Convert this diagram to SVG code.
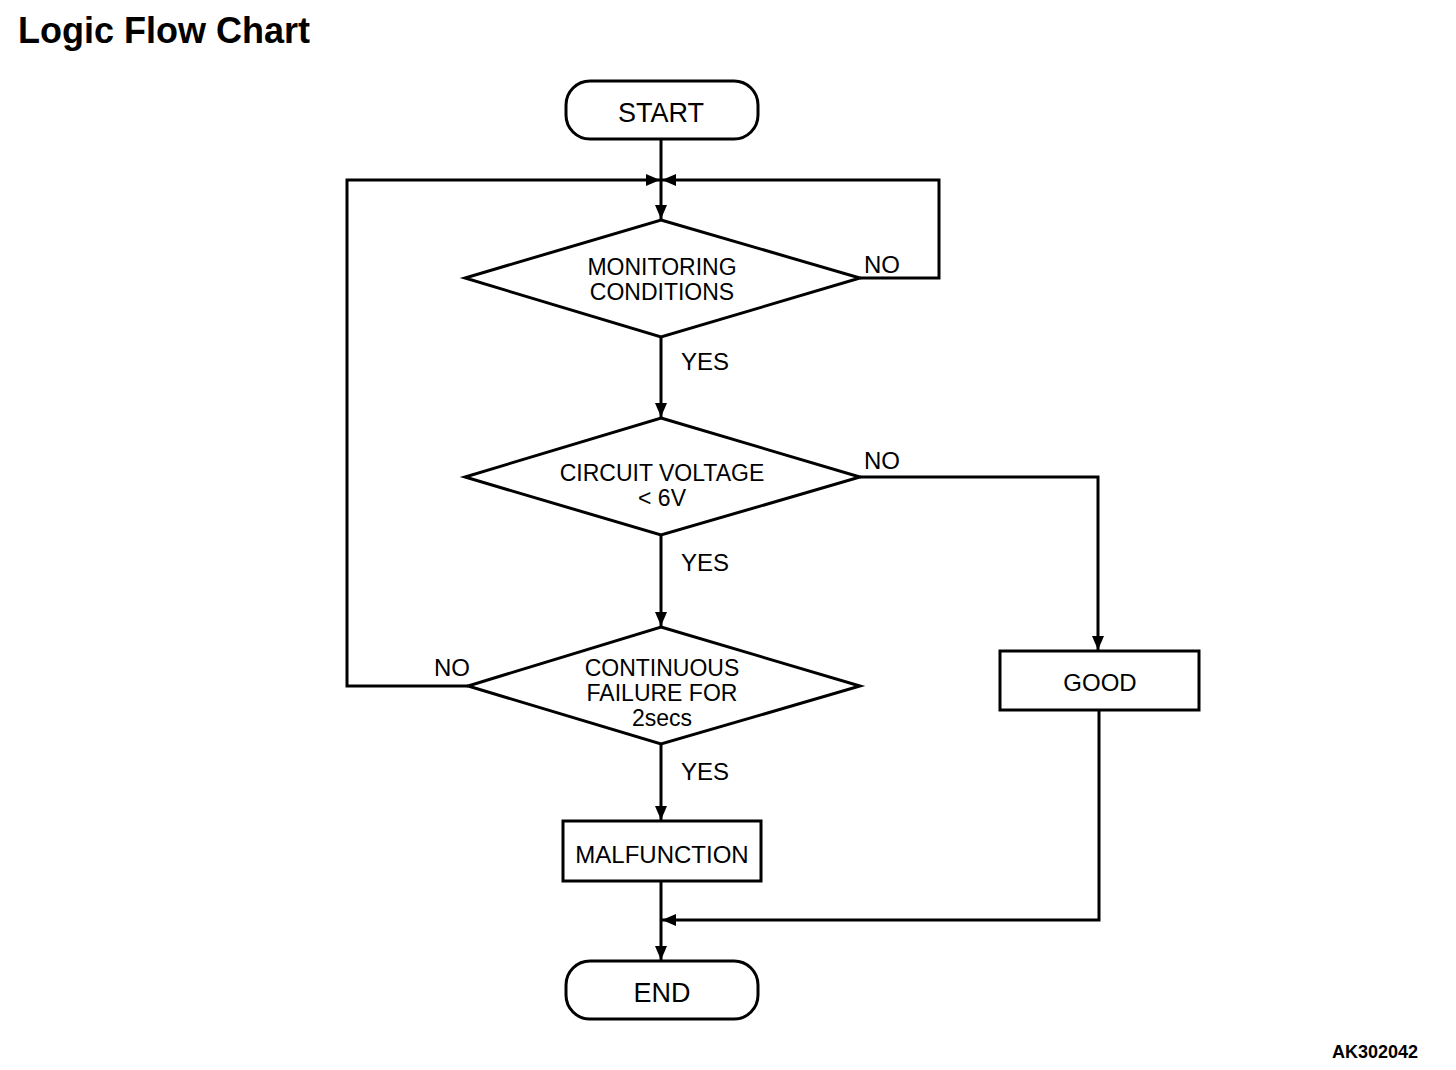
<svg xmlns="http://www.w3.org/2000/svg" width="1456" height="1070" viewBox="0 0 1456 1070">
<defs>
<style>
.s{fill:#fff;stroke:#000;stroke-width:3}
.c{fill:none;stroke:#000;stroke-width:3}
.t{font-family:"Liberation Sans",Arial,sans-serif;font-size:24px;fill:#000;text-anchor:middle}
.d{font-family:"Liberation Sans",Arial,sans-serif;font-size:23px;fill:#000;text-anchor:middle}
.l{font-family:"Liberation Sans",Arial,sans-serif;font-size:24px;fill:#000}
.b{font-family:"Liberation Sans",Arial,sans-serif;font-size:27px;fill:#000;text-anchor:middle}
</style>
<marker id="a" markerUnits="userSpaceOnUse" markerWidth="14" markerHeight="12" refX="14" refY="6" orient="auto">
<path d="M0,0 L14,6 L0,12 z" fill="#000"/>
</marker>
</defs>
<rect width="1456" height="1070" fill="#fff"/>
<text x="18" y="43" font-family="Liberation Sans,Arial,sans-serif" font-size="36" font-weight="bold">Logic Flow Chart</text>
<text x="1418" y="1058" font-family="Liberation Sans,Arial,sans-serif" font-size="18" font-weight="bold" text-anchor="end">AK302042</text>
<g id="connectors">
<path class="c" d="M661,139 V219" marker-end="url(#a)"/>
<path class="c" d="M468,686 H347 V180 H660" marker-end="url(#a)"/>
<path class="c" d="M860,278 H939 V180 H662" marker-end="url(#a)"/>
<path class="c" d="M661,337 V417" marker-end="url(#a)"/>
<path class="c" d="M860,477 H1098 V650" marker-end="url(#a)"/>
<path class="c" d="M661,535 V626" marker-end="url(#a)"/>
<path class="c" d="M661,744 V820" marker-end="url(#a)"/>
<path class="c" d="M661,881 V960" marker-end="url(#a)"/>
<path class="c" d="M1099,710 V920 H662" marker-end="url(#a)"/>
<text class="l" x="864" y="273">NO</text>
<text class="l" x="681" y="370">YES</text>
<text class="l" x="864" y="469">NO</text>
<text class="l" x="681" y="571">YES</text>
<text class="l" x="434" y="676">NO</text>
<text class="l" x="681" y="780">YES</text>
</g>
<g id="start">
<rect class="s" x="566" y="81" width="192" height="58" rx="24"/>
<text class="b" x="661" y="122">START</text>
</g>
<g id="monitoring">
<polygon class="s" points="661,220 860,278 661,337 465,278"/>
<text class="d" x="662" y="275">MONITORING</text>
<text class="d" x="662" y="300">CONDITIONS</text>
</g>
<g id="voltage">
<polygon class="s" points="661,418 860,477 661,535 465,477"/>
<text class="d" x="662" y="481">CIRCUIT VOLTAGE</text>
<text class="d" x="662" y="506">&lt; 6V</text>
</g>
<g id="continuous">
<polygon class="s" points="661,627 860,686 661,744 468,686"/>
<text class="d" x="662" y="676">CONTINUOUS</text>
<text class="d" x="662" y="701">FAILURE FOR</text>
<text class="d" x="662" y="726">2secs</text>
</g>
<g id="malfunction">
<rect class="s" x="563" y="821" width="198" height="60"/>
<text class="t" x="662" y="863">MALFUNCTION</text>
</g>
<g id="good">
<rect class="s" x="1000" y="651" width="199" height="59"/>
<text class="t" x="1100" y="691">GOOD</text>
</g>
<g id="end">
<rect class="s" x="566" y="961" width="192" height="58" rx="24"/>
<text class="b" x="662" y="1002">END</text>
</g>
</svg>
